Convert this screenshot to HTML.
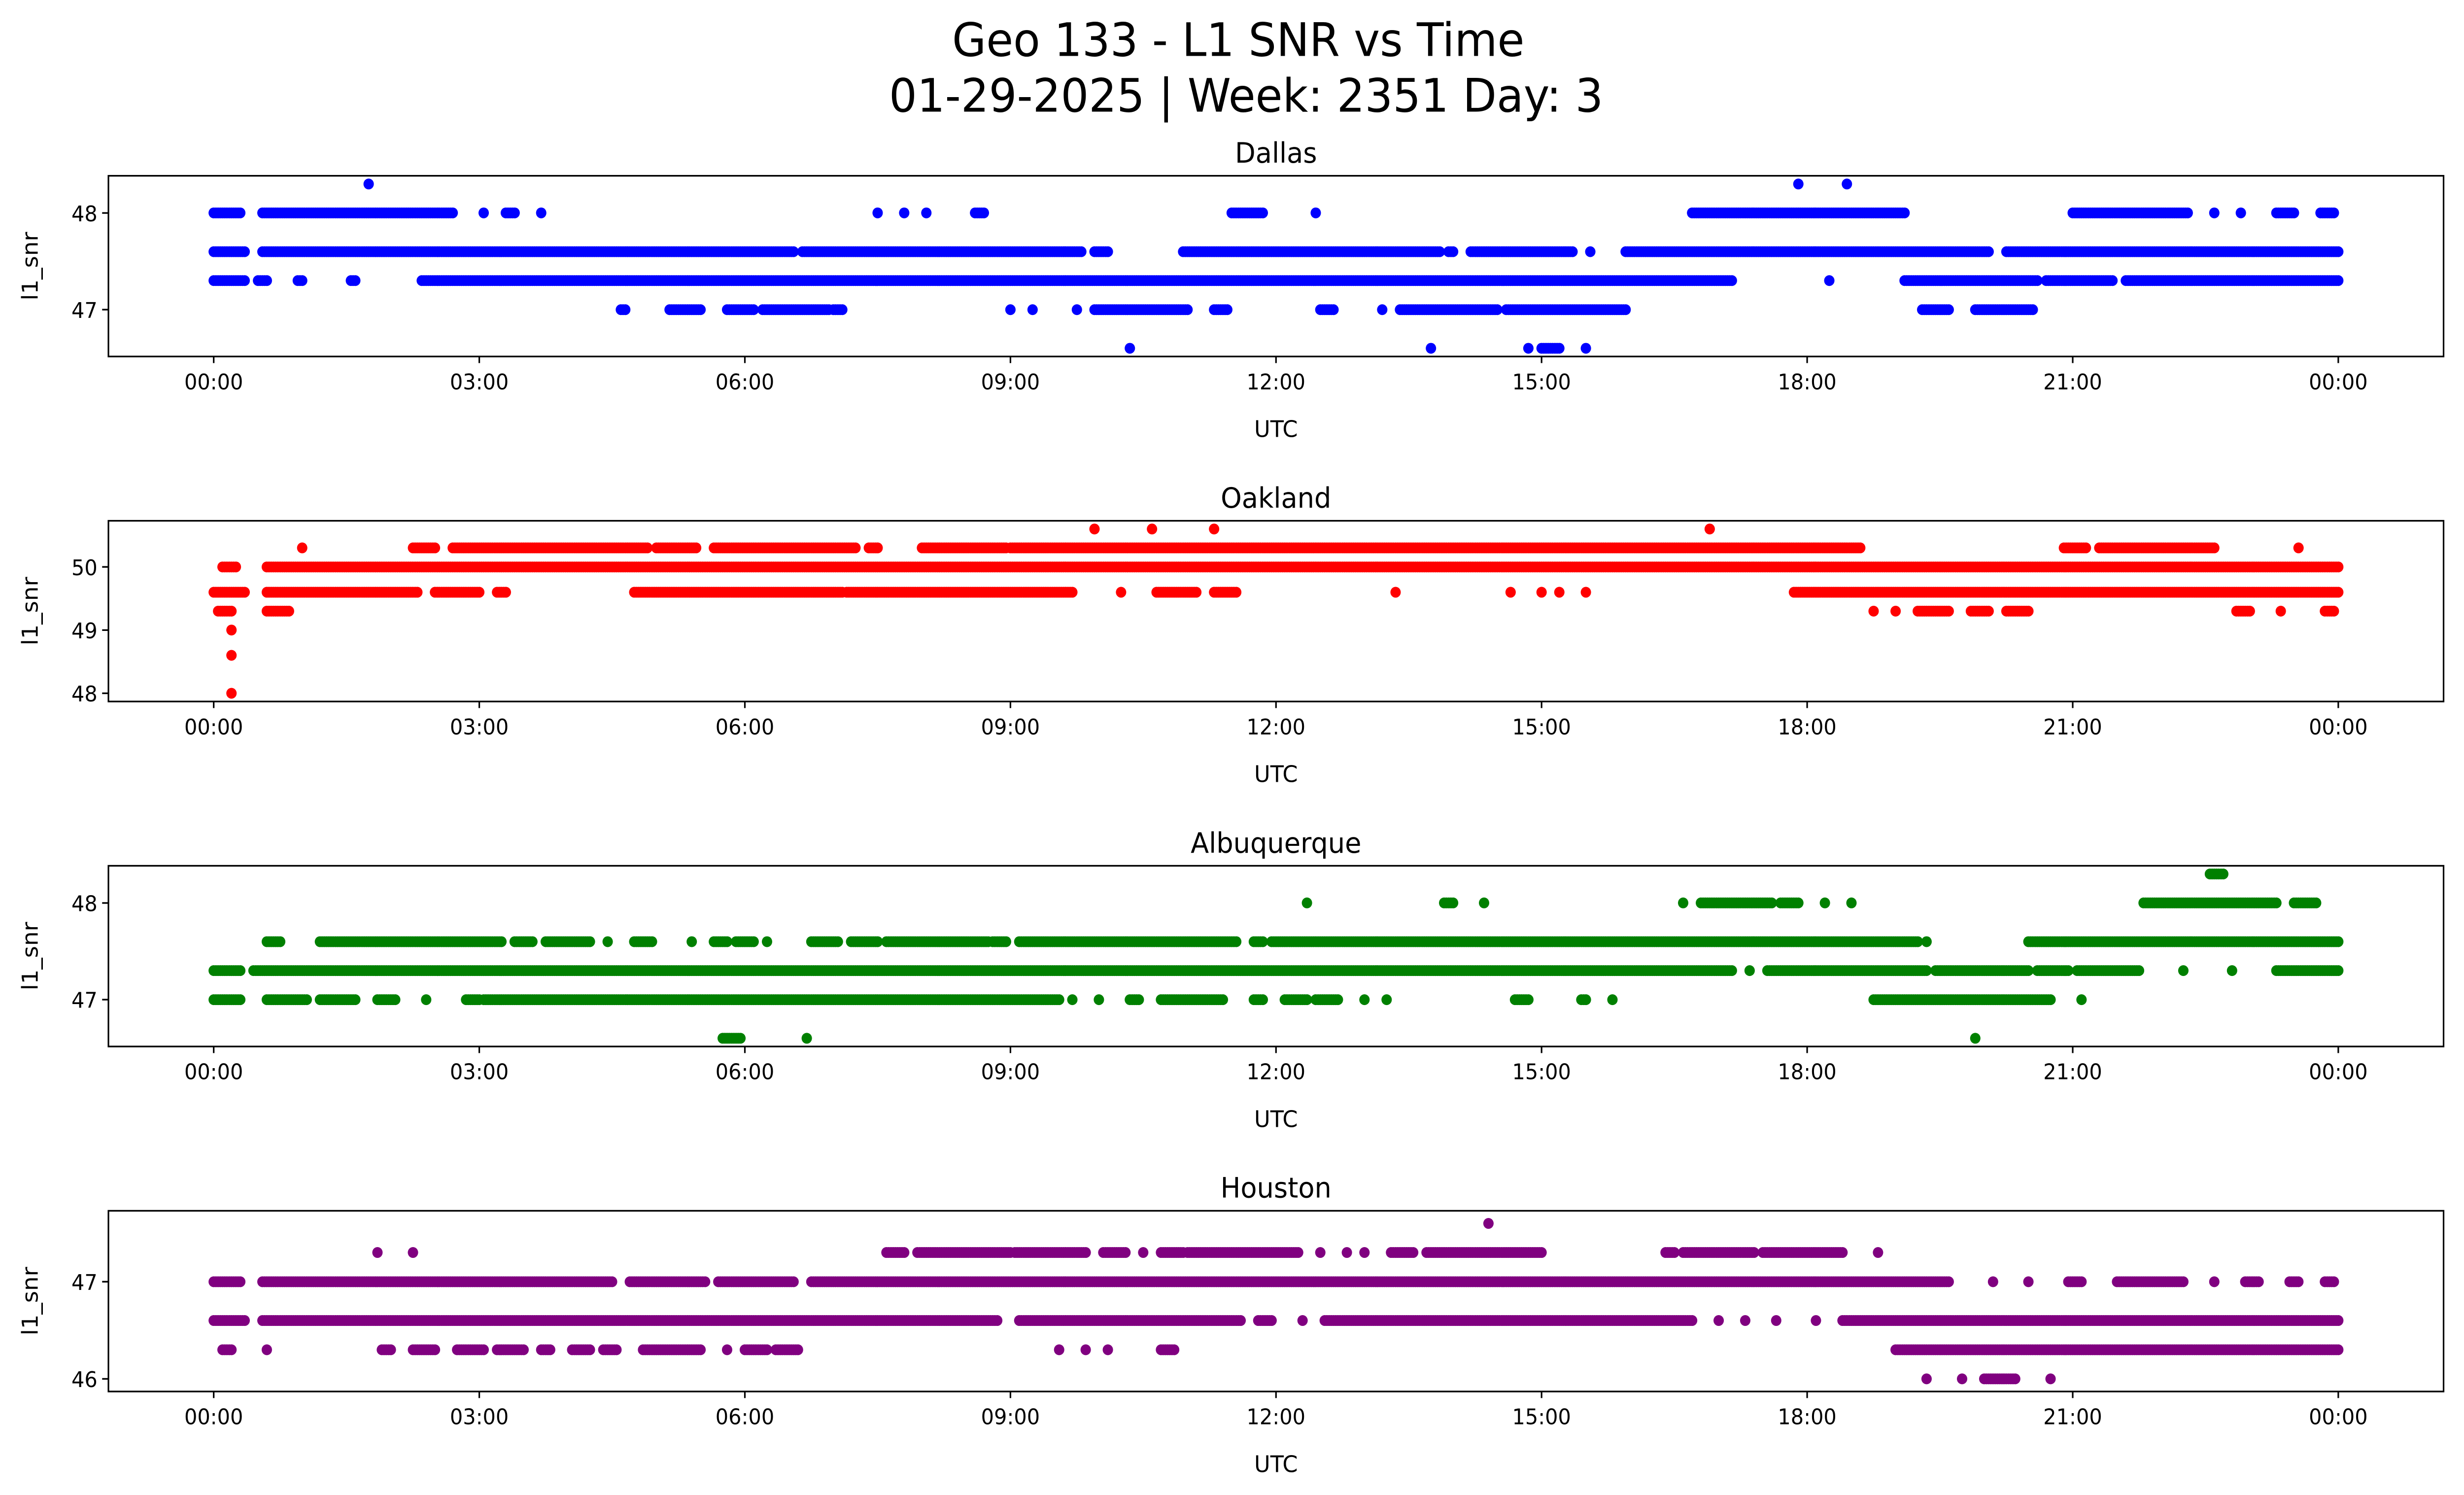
<!DOCTYPE html>
<html><head><meta charset="utf-8"><title>Geo 133 - L1 SNR vs Time</title>
<style>html,body{margin:0;padding:0;background:#fff;overflow:hidden;width:100%;height:100%}svg{display:block;position:fixed;left:0;top:0;width:100vw;height:100vh}</style></head>
<body>
<svg id="fig" xmlns="http://www.w3.org/2000/svg" viewBox="0 0 1568 910" preserveAspectRatio="none" font-family="'DejaVu Sans','Liberation Sans',sans-serif">
<rect width="1568" height="910" fill="#fff"/>
<text x="788" y="34" font-size="28" text-anchor="middle">Geo 133 - L1 SNR vs Time</text>
<text x="793" y="68" font-size="28" text-anchor="middle">01-29-2025 | Week: 2351 Day: 3</text>
</svg>
<script>
// x tick labels (hours)
const xTickHours = [0,3,6,9,12,15,18,21,24];
const xTickLabels = ["00:00","03:00","06:00","09:00","12:00","15:00","18:00","21:00","00:00"];
// station names and colors
const stations = ["Dallas","Oakland","Albuquerque","Houston"];
const colors = ["#0000ff","#ff0000","#008000","#800080"];
// y ticks per station
const yTicksDallas = [47,48];
const yTicksOakland = [48,49,50];
const yTicksAlbuquerque = [47,48];
const yTicksHouston = [46,47];
// y-domain per station
const yDomainDallas = [46.515,48.385];
const yDomainOakland = [47.87,50.73];
const yDomainAlbuquerque = [46.515,48.385];
const yDomainHouston = [45.87,47.73];
// SNR levels and time runs [startHour, endHour] per level
const dallasLevels = [48.3,48,47.6,47.3,47,46.6];
const dallasRuns = [
 [[1.75,1.75],[17.9,17.9],[18.45,18.45]],
 [[0,0.3],[0.55,2.7],[3.05,3.05],[3.3,3.4],[3.7,3.7],[7.5,7.5],[7.8,7.8],[8.05,8.05],[8.6,8.7],[11.5,11.85],[12.45,12.45],[16.7,19.1],[21.0,22.3],[22.6,22.6],[22.9,22.9],[23.3,23.5],[23.8,23.95]],
 [[0,0.35],[0.55,6.55],[6.65,9.8],[9.95,10.1],[10.95,13.85],[13.95,14.0],[14.2,15.35],[15.55,15.55],[15.95,20.05],[20.25,24]],
 [[0,0.35],[0.5,0.6],[0.95,1.0],[1.55,1.6],[2.35,17.15],[18.25,18.25],[19.1,20.6],[20.7,21.45],[21.6,24]],
 [[4.6,4.65],[5.15,5.5],[5.8,6.1],[6.2,6.95],[7.0,7.1],[9.0,9.0],[9.25,9.25],[9.75,9.75],[9.95,11.0],[11.3,11.45],[12.5,12.65],[13.2,13.2],[13.4,14.5],[14.6,15.95],[19.3,19.6],[19.9,20.55]],
 [[10.35,10.35],[13.75,13.75],[14.85,14.85],[15.0,15.2],[15.5,15.5]]
];
const oaklandLevels = [50.6,50.3,50,49.6,49.3,49,48.6,48];
const oaklandRuns = [
 [[9.95,9.95],[10.6,10.6],[11.3,11.3],[16.9,16.9]],
 [[1.0,1.0],[2.25,2.5],[2.7,4.9],[5.0,5.45],[5.65,7.25],[7.4,7.5],[8.0,8.95],[9.0,18.6],[20.9,21.15],[21.3,22.6],[23.55,23.55]],
 [[0.1,0.25],[0.6,24]],
 [[0,0.35],[0.6,2.3],[2.5,3.0],[3.2,3.3],[4.75,7.1],[7.15,9.7],[10.25,10.25],[10.65,11.1],[11.3,11.55],[13.35,13.35],[14.65,14.65],[15.0,15.0],[15.2,15.2],[15.5,15.5],[17.85,24]],
 [[0.05,0.2],[0.6,0.85],[18.75,18.75],[19.0,19.0],[19.25,19.6],[19.85,20.05],[20.25,20.5],[22.85,23.0],[23.35,23.35],[23.85,23.95]],
 [[0.2,0.2]],[[0.2,0.2]],[[0.2,0.2]]
];
const albuquerqueLevels = [48.3,48,47.6,47.3,47,46.6];
const albuquerqueRuns = [
 [[22.55,22.7]],
 [[12.35,12.35],[13.9,14.0],[14.35,14.35],[16.6,16.6],[16.8,17.6],[17.7,17.9],[18.2,18.2],[18.5,18.5],[21.8,23.3],[23.5,23.75]],
 [[0.6,0.75],[1.2,3.25],[3.4,3.6],[3.75,4.25],[4.45,4.45],[4.75,4.95],[5.4,5.4],[5.65,5.8],[5.9,6.1],[6.25,6.25],[6.75,7.05],[7.2,7.5],[7.6,8.75],[8.8,8.95],[9.1,11.55],[11.75,11.85],[11.95,19.25],[19.35,19.35],[20.5,24]],
 [[0,0.3],[0.45,17.15],[17.35,17.35],[17.55,19.35],[19.45,20.5],[20.6,20.95],[21.05,21.75],[22.25,22.25],[22.8,22.8],[23.3,24]],
 [[0,0.3],[0.6,1.05],[1.2,1.6],[1.85,2.05],[2.4,2.4],[2.85,3.0],[3.05,9.55],[9.7,9.7],[10.0,10.0],[10.35,10.45],[10.7,11.4],[11.75,11.85],[12.1,12.35],[12.45,12.7],[13.0,13.0],[13.25,13.25],[14.7,14.85],[15.45,15.5],[15.8,15.8],[18.75,20.75],[21.1,21.1]],
 [[5.75,5.95],[6.7,6.7],[19.9,19.9]]
];
const houstonLevels = [47.6,47.3,47,46.6,46.3,46];
const houstonRuns = [
 [[14.4,14.4]],
 [[1.85,1.85],[2.25,2.25],[7.6,7.8],[7.95,9.0],[9.05,9.85],[10.05,10.3],[10.5,10.5],[10.7,10.95],[11.0,12.25],[12.5,12.5],[12.8,12.8],[13.0,13.0],[13.3,13.55],[13.7,15.0],[16.4,16.5],[16.6,17.4],[17.5,18.4],[18.8,18.8]],
 [[0,0.3],[0.55,4.5],[4.7,5.55],[5.7,6.55],[6.75,19.6],[20.1,20.1],[20.5,20.5],[20.95,21.1],[21.5,22.25],[22.6,22.6],[22.95,23.1],[23.45,23.55],[23.85,23.95]],
 [[0,0.35],[0.55,8.85],[9.1,11.6],[11.8,11.95],[12.3,12.3],[12.55,16.7],[17.0,17.0],[17.3,17.3],[17.65,17.65],[18.1,18.1],[18.4,24]],
 [[0.1,0.2],[0.6,0.6],[1.9,2.0],[2.25,2.5],[2.75,3.05],[3.2,3.5],[3.7,3.8],[4.05,4.25],[4.4,4.55],[4.85,5.5],[5.8,5.8],[6.0,6.25],[6.35,6.6],[9.55,9.55],[9.85,9.85],[10.1,10.1],[10.7,10.85],[19.0,24]],
 [[19.35,19.35],[19.75,19.75],[20.0,20.35],[20.75,20.75]]
];

const NS = "http://www.w3.org/2000/svg";
const svg = document.getElementById('fig');
const AX_L = 69, AX_R = 1555, X0 = 136, X24 = 1488;
const tops = [107,317,527,737], H = 110;
function xScale(h){ return X0 + (X24 - X0) * h / 24; }
function mk(tag, attrs){ const e = document.createElementNS(NS, tag); for (const k in attrs) e.setAttribute(k, attrs[k]); return e; }

const allLevels = [dallasLevels, oaklandLevels, albuquerqueLevels, houstonLevels];
const allRuns = [dallasRuns, oaklandRuns, albuquerqueRuns, houstonRuns];
const allYTicks = [yTicksDallas, yTicksOakland, yTicksAlbuquerque, yTicksHouston];
const allDomains = [yDomainDallas, yDomainOakland, yDomainAlbuquerque, yDomainHouston];

stations.forEach((name, i) => {
  const top = tops[i], bot = top + H, dom = allDomains[i];
  const yScale = v => bot - (v - dom[0]) / (dom[1] - dom[0]) * H;
  const g = mk('g', {});
  
  
  svg.appendChild(g);

  const t = mk('text', {x: (AX_L + AX_R) / 2, y: top - 8, 'font-size': 17, 'text-anchor': 'middle'});
  
  
  t.textContent = name; g.appendChild(t);

  const pts = mk('g', {fill: colors[i]});
  
  
  g.appendChild(pts);
  allLevels[i].forEach((lv, li) => {
    const cy = yScale(lv);
    allRuns[i][li].forEach(r => {
      const step = 0.025;
      for (let h = r[0]; h <= r[1] + 1e-9; h += step) {
        const c = mk('circle', {cx: xScale(h).toFixed(1), cy: cy.toFixed(1), r: 3.3});
        pts.appendChild(c);
      }
    });
  });

  const frame = mk('rect', {x: AX_L, y: top, width: AX_R - AX_L, height: H, fill: 'none', stroke: '#000', 'stroke-width': 1});
  
  
  g.appendChild(frame);

  xTickHours.forEach((hr, k) => {
    const x = xScale(hr);
    g.appendChild(mk('line', {x1: x, x2: x, y1: bot, y2: bot + 4, stroke: '#000', 'stroke-width': 1}));
    const lb = mk('text', {x: x, y: bot + 20, 'font-size': 13, 'text-anchor': 'middle'});
    
    
    lb.textContent = xTickLabels[k]; g.appendChild(lb);
  });
  const xl = mk('text', {x: (AX_L + AX_R) / 2, y: bot + 49, 'font-size': 14, 'text-anchor': 'middle'});
  
  
  xl.textContent = 'UTC'; g.appendChild(xl);

  allYTicks[i].forEach(v => {
    const y = yScale(v);
    g.appendChild(mk('line', {x1: AX_L - 4, x2: AX_L, y1: y, y2: y, stroke: '#000', 'stroke-width': 1}));
    const lb = mk('text', {x: AX_L - 7, y: y + 5, 'font-size': 13, 'text-anchor': 'end'});
    
    
    lb.textContent = String(v); g.appendChild(lb);
  });
  const yl = mk('text', {x: 0, y: 0, 'font-size': 14, 'text-anchor': 'middle', transform: `translate(24,${top + H / 2}) rotate(-90)`});
  
  
  yl.textContent = 'l1_snr'; g.appendChild(yl);
});
</script>
</body></html>
